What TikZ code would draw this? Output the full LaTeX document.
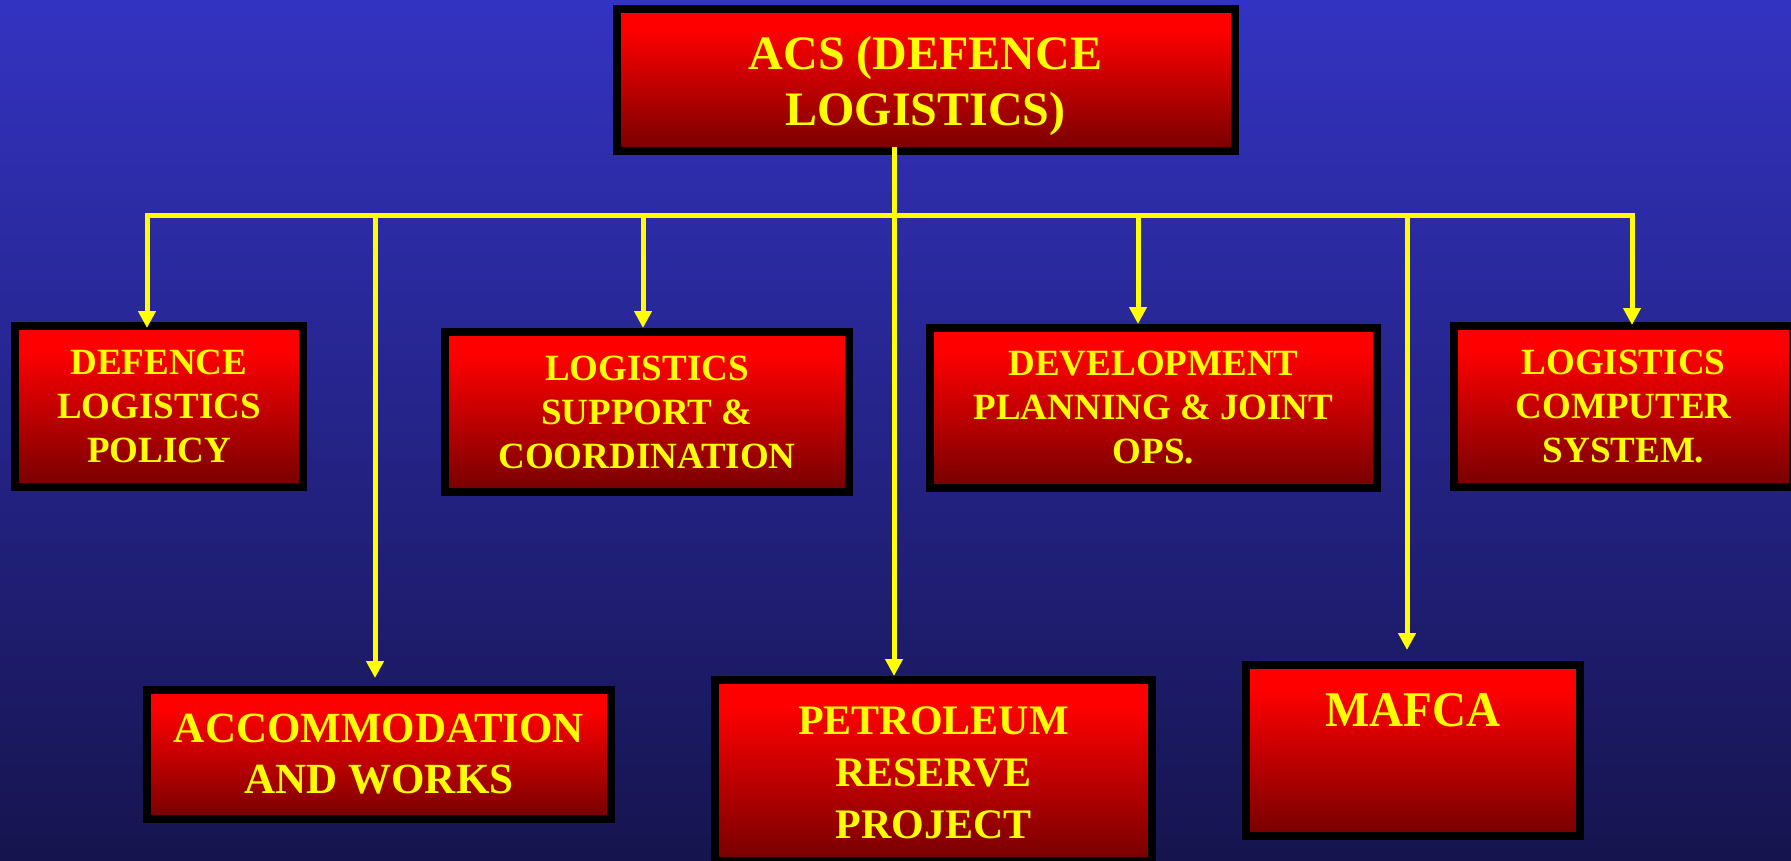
\documentclass[tikz,border=0pt]{standalone}
\usepackage{fontspec}
\usepackage{graphicx}
\setmainfont{Liberation Serif}
\usetikzlibrary{arrows.meta}
\definecolor{bgtop}{RGB}{51,51,194}
\definecolor{bgmid}{RGB}{44,42,160}
\definecolor{bgbot}{RGB}{22,20,78}
\definecolor{boxtop}{RGB}{255,0,0}
\definecolor{boxbot}{RGB}{118,0,0}
\definecolor{ylw}{RGB}{255,255,0}
\pgfdeclareverticalshading{redbox}{100bp}{color(0bp)=(boxbot); color(25bp)=(boxbot); color(68bp)=(boxtop); color(100bp)=(boxtop)}
\newcommand{\lowertext}[2]{\raisebox{-#1}[\height][\depth]{\begin{tabular}{@{}c@{}}#2\end{tabular}}}
\begin{document}
\begin{tikzpicture}[x=1pt,y=1pt,
  box/.style={draw=black,line width=8pt,shading=redbox,text=ylw,align=center,inner sep=0pt},
  small/.style={font=\bfseries\fontsize{37}{44}\selectfont},
  link/.style={draw=ylw,line width=5pt},
  arr/.style={link,-{Triangle[width=17pt,length=17pt]}}
]
\useasboundingbox (0,0) rectangle (1791,-861);
\clip (0,0) rectangle (1791,-861);
\shade[top color=bgtop,middle color=bgmid,bottom color=bgbot] (0,0) rectangle (1791,-861);

% boxes
\node[box,minimum width=618pt,minimum height=142pt,font=\bfseries\fontsize{48}{56}\selectfont] (top) at (925.5,-80.5) {\lowertext{6pt}{ACS (DEFENCE\\LOGISTICS)}};
\node[box,small,minimum width=288pt,minimum height=161pt] (def) at (159,-406.5) {DEFENCE\\LOGISTICS\\POLICY};
\node[box,small,minimum width=404pt,minimum height=160pt] (lsc) at (647,-412) {LOGISTICS\\SUPPORT \&\\COORDINATION};
\node[box,small,minimum width=447pt,minimum height=160pt] (dev) at (1153.5,-408) {DEVELOPMENT\\PLANNING \& JOINT\\OPS.};
\node[box,small,minimum width=339pt,minimum height=161pt] (lcs) at (1623.5,-406.5) {LOGISTICS\\COMPUTER\\SYSTEM.};
\node[box,minimum width=464pt,minimum height=129pt,font=\bfseries\fontsize{43}{51}\selectfont] (acc) at (379,-754.5) {\lowertext{3.5pt}{ACCOMMODATION\\AND WORKS}};
\node[box,minimum width=437pt,minimum height=181pt,font=\bfseries\fontsize{42}{52}\selectfont] (pet) at (933.5,-770.5) {\lowertext{6pt}{PETROLEUM\\RESERVE\\PROJECT}};
\node[box,minimum width=334pt,minimum height=171pt] (maf) at (1413,-750.5) {};
\node[text=ylw,anchor=base,inner sep=0pt,font=\bfseries\fontsize{50}{56}\selectfont] (maftext) at (1413,-726) {\scalebox{0.94}[1]{MAFCA}};

% bus junctions
\coordinate (jdef) at (147,-216);
\coordinate (jacc) at (375,-216);
\coordinate (jlsc) at (643,-216);
\coordinate (jpet) at (894,-216);
\coordinate (jdev) at (1138,-216);
\coordinate (jmaf) at (1407,-216);
\coordinate (jlcs) at (1632,-216);

% connectors
\draw[link,line cap=rect] (jdef) -- (jlcs);
\draw[arr,shorten <=-8pt] (top.south -| jpet) -- (pet.north -| jpet);
\draw[arr,shorten >=-6pt] (jdef) -- (def.north -| jdef);
\draw[arr] (jacc) -- ([yshift=8pt]acc.north -| jacc);
\draw[arr] (jlsc) -- (lsc.north -| jlsc);
\draw[arr] (jdev) -- (dev.north -| jdev);
\draw[arr] (jmaf) -- ([yshift=11pt]maf.north -| jmaf);
\draw[arr,shorten >=-3pt] (jlcs) -- (lcs.north -| jlcs);
\end{tikzpicture}
\end{document}
